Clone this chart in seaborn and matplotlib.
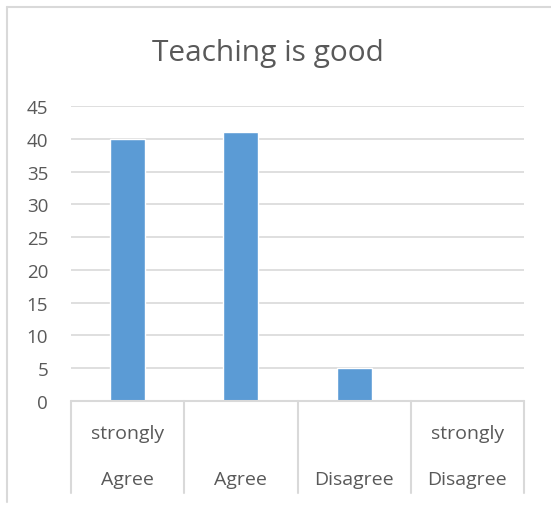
import matplotlib
matplotlib.use("Agg")
import matplotlib.pyplot as plt
from matplotlib.lines import Line2D
import seaborn as sns
import pandas as pd

categories = ["strongly\nAgree", "Agree", "Disagree", "strongly\nDisagree"]
values = [40, 41, 5, 0]
title = "Teaching is good"
yticks = [0, 5, 10, 15, 20, 25, 30, 35, 40, 45]

sns.set_theme(style="white")
plt.rcParams["font.family"] = ["Open Sans", "DejaVu Sans"]

W, H = 551, 506
fig = plt.figure(figsize=(W / 100, H / 100), dpi=100)
L, R, T, B = 71, 524, 107, 402
ax = fig.add_axes([L / W, 1 - B / H, (R - L) / W, (B - T) / H])

df = pd.DataFrame({"cat": categories, "val": values})
sns.barplot(data=df, x="cat", y="val", color="#5B9BD5", width=0.31,
            saturation=1, ax=ax, zorder=3)

ax.set_ylim(0, 45)
ax.set_xlim(-0.5, 3.5)
ax.set_yticks(yticks)
ax.yaxis.grid(True, color="#D9D9D9", linewidth=1.2, zorder=0)
ax.xaxis.grid(False)
for s in ax.spines.values():
    s.set_visible(False)
ax.set_xlabel("")
ax.set_ylabel("")
ax.tick_params(axis="y", length=0, labelsize=13.5, labelcolor="#595959", pad=16.5)
ax.tick_params(axis="x", length=0)
ax.set_xticks(range(len(categories)))
ax.set_xticklabels([])

col = "#595959"
fs = 14
# category labels in table-like cells
for i, c in enumerate(categories):
    xf = (L + (R - L) * (i + 0.5) / 4) / W
    parts = c.split("\n")
    if len(parts) == 2:
        fig.text(xf, 1 - 434 / H, parts[0], ha="center", va="center",
                 fontsize=fs, color=col)
        fig.text(xf, 1 - 480 / H, parts[1], ha="center", va="center",
                 fontsize=fs, color=col)
    else:
        fig.text(xf, 1 - 480 / H, parts[0], ha="center", va="center",
                 fontsize=fs, color=col)

# separators
lc = "#D9D9D9"
fig.add_artist(Line2D([L / W, R / W], [1 - B / H, 1 - B / H], color=lc, lw=1.5,
                      transform=fig.transFigure))
for i in range(5):
    xf = (L + (R - L) * i / 4) / W
    fig.add_artist(Line2D([xf, xf], [1 - B / H, 1 - 494 / H], color=lc, lw=1.5,
                          transform=fig.transFigure))

# chart border
fig.add_artist(Line2D([7 / W, 7 / W], [1 - 8 / H, 1 - 503 / H], color=lc, lw=1.5,
                      transform=fig.transFigure))
fig.add_artist(Line2D([7 / W, 1.0], [1 - 8 / H, 1 - 8 / H], color=lc, lw=1.5,
                      transform=fig.transFigure))

fig.text(268 / W, 1 - 53 / H, title, ha="center", va="center",
         fontsize=21.5, color=col)

fig.savefig("out.png", dpi=100, facecolor="white")
